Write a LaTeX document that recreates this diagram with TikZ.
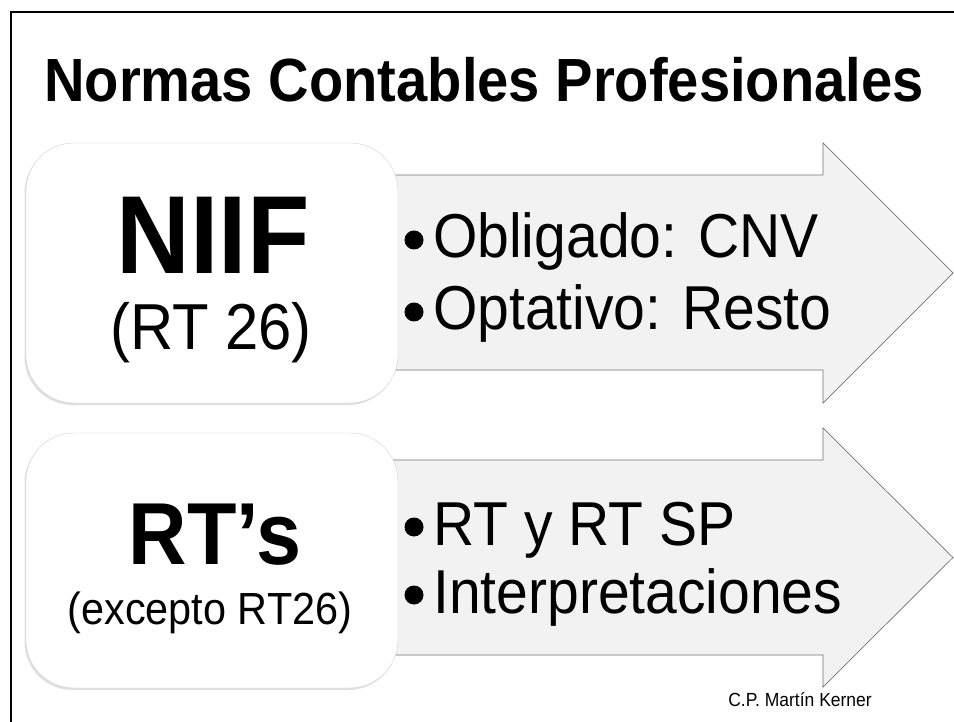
\documentclass[tikz,border=0pt]{standalone}
\usepackage{fontspec}
\setmainfont{Liberation Sans}[FakeStretch=0.92]
\usepackage{tikz}
\usetikzlibrary{positioning}
\usetikzlibrary{shadows}

\begin{document}
\begin{tikzpicture}[x=1pt,y=-1pt,
		caja/.style={draw=black!18, fill=white, rounded corners=48pt, minimum width=372pt,
			drop shadow={opacity=0.25, shadow xshift=-1.5pt, shadow yshift=-2pt}},
		flecha/.style={draw=black!55, line width=0.7pt, fill=black!5},
		punto/.style={anchor=base west, inner sep=0pt, font=\fontsize{62}{62}\selectfont},
		bala/.style={circle, fill=black, inner sep=0pt, minimum size=19pt},
		grande/.style={anchor=base, inner sep=0pt, font=\fontsize{#1}{#1}\selectfont\bfseries},
		chico/.style={anchor=base, inner sep=0pt, font=\fontsize{#1}{#1}\selectfont}]
		\useasboundingbox (0,0) rectangle (954,722);
		\fill[white] (0,0) rectangle (954,722);
		\draw[line width=2.5pt] (11,722) -- (11,12) -- (954,12);
		
		\node[grande=61] (titulo) at (484,102) {Normas Contables Profesionales};
		
		% primera fila
		\draw[flecha] (392,175) -- (823,175) -- (823,143) -- (953,273) -- (823,403) -- (823,370) -- (392,370) -- cycle;
		\node[caja, minimum height=260pt] (caja1) at (212,273) {};
		\node[grande=111] (niif) at (213,274) {NIIF};
		\node[chico=65] (rt26) at (211,349) {(RT 26)};
		\node[punto] (obligado) at (433,258) {Obligado: CNV};
		\node[punto] (optativo) at (433,330) {Optativo: Resto};
		\node[bala] (bala1) at (414,240) {};
		\node[bala] (bala2) at (414,312) {};
		
		% segunda fila
		\draw[flecha] (392,460) -- (823,460) -- (823,428) -- (953,557.5) -- (823,687) -- (823,655) -- (392,655) -- cycle;
		\node[caja, minimum height=255pt] (caja2) at (212,560.5) {};
		\node[grande=88] (rts) at (215,564) {RT’s};
		\node[chico=45] (excepto) at (210,624) {(excepto RT26)};
		\node[punto] (rtsp) at (433,545) {RT y RT SP};
		\node[punto] (interp) at (433,613) {Interpretaciones};
		\node[bala] (bala3) at (414,527) {};
		\node[bala] (bala4) at (414,595) {};
		
		\node[chico=19] (autor) at (800,706) {C.P. Martín Kerner};
	\end{tikzpicture}
\end{document}
